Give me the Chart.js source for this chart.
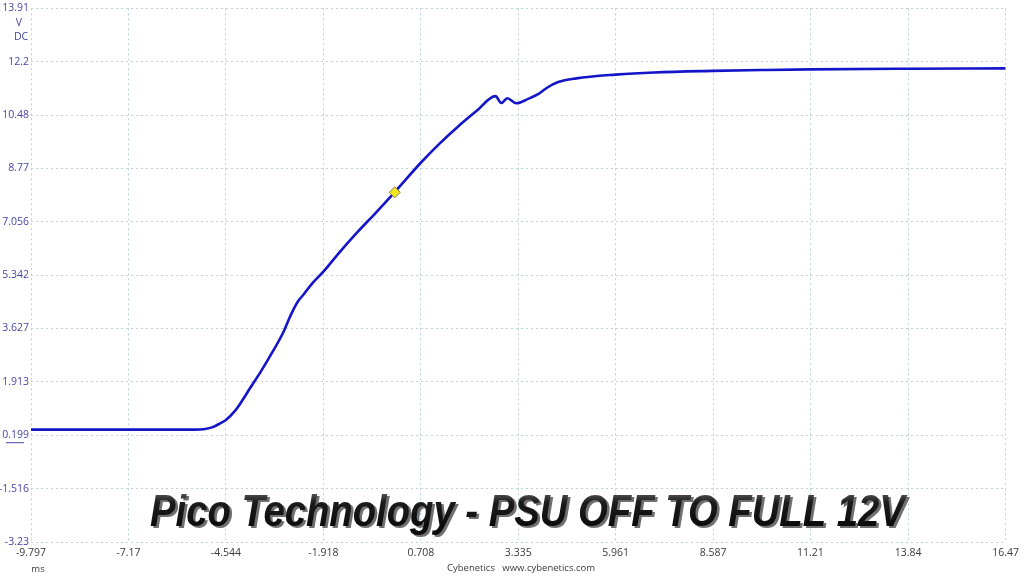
<!DOCTYPE html>
<html>
<head>
<meta charset="utf-8">
<script src="https://cdn.jsdelivr.net/npm/chart.js@4"></script>
<style>
html,body{margin:0;padding:0;background:#fff;}
#wrap{width:1024px;height:576px;position:relative;}
</style>
</head>
<body>
<div id="wrap"><canvas id="c" width="1024" height="576"></canvas></div>
<script>
const xTickLabels = ['-9.797','-7.17','-4.544','-1.918','0.708','3.335','5.961','8.587','11.21','13.84','16.47'];
const yTickLabels = ['-3.23','-1.516','0.199','1.913','3.627','5.342','7.056','8.77','10.48','12.2','13.91'];
const timeMs = [-9.797,-8.5,-7,-6,-5.4,-5.1,-4.9,-4.7,-4.544,-4.3,-4.1,-3.9,-3.6,-3.3,-3.0,-2.8,-2.6,-2.45,-2.2,-1.918,-1.5,-1.0,-0.5,0.0,0.708,1.2,1.7,2.2,2.72,2.88,3.04,3.28,3.6,3.87,4.1,4.41,4.9,5.961,7.0,8.587,10.0,11.21,13.84,16.47];
const voltageV = [0.38,0.38,0.38,0.38,0.38,0.40,0.46,0.58,0.69,0.98,1.32,1.70,2.25,2.85,3.5,4.05,4.5,4.72,5.1,5.45,6.05,6.72,7.35,8.0,8.95,9.55,10.1,10.6,11.09,10.87,11.02,10.86,11.0,11.15,11.35,11.54,11.66,11.78,11.85,11.9,11.93,11.95,11.97,11.98];
const markerTime = [0.006];
const markerVolt = [8.0];

const xMin = parseFloat(xTickLabels[0]), xMax = parseFloat(xTickLabels[xTickLabels.length-1]);
const yMin = parseFloat(yTickLabels[0]), yMax = parseFloat(yTickLabels[yTickLabels.length-1]);

const gridCol = '#b9d2da';
const yLabCol = '#4646a6';
const xLabCol = '#3a3a3a';
const tickFont = {family:'"Open Sans", "Noto Sans", sans-serif', size:10.5};

const extras = {
  id:'extras',
  afterDraw(chart){
    const ctx = chart.ctx, ys = chart.scales.y;
    ctx.save();
    ctx.font = '10.5px "Open Sans", "Noto Sans", sans-serif';
    ctx.fillStyle = yLabCol;
    ctx.textAlign = 'center'; ctx.textBaseline = 'middle';
    ctx.fillText('V', 19, 23);
    ctx.fillText('DC', 21, 37);
    const yz = ys.getPixelForValue(parseFloat(yTickLabels[2]));
    ctx.strokeStyle = yLabCol; ctx.lineWidth = 1;
    ctx.beginPath(); ctx.moveTo(6, yz+7.5); ctx.lineTo(24, yz+7.5); ctx.stroke();
    ctx.fillStyle = xLabCol;
    ctx.font = '9.5px "Open Sans", "Noto Sans", sans-serif';
    ctx.fillText('ms', 38, 569);
    ctx.fillText('Cybenetics   www.cybenetics.com', 521, 568);
    const title = 'Pico Technology - PSU OFF TO FULL 12V';
    const fam = '"Liberation Sans", Arial, Helvetica, sans-serif';
    ctx.font = 'italic bold 40px ' + fam;
    const w = ctx.measureText(title).width;
    const fs = 40 * 755 / w;
    ctx.font = 'italic bold ' + fs.toFixed(2) + 'px ' + fam;
    ctx.textAlign = 'left'; ctx.textBaseline = 'alphabetic';
    ctx.translate(150, 526);
    ctx.scale(1, 1.18);
    ctx.fillStyle = '#707070';
    ctx.fillText(title, 2.5, 1.5);
    const g = ctx.createLinearGradient(0, -fs*0.75, 0, 0);
    g.addColorStop(0, '#5a5a5a');
    g.addColorStop(0.3, '#1c1c1c');
    g.addColorStop(1, '#0c0c0c');
    ctx.fillStyle = g;
    ctx.fillText(title, 0, 0);
    ctx.restore();
  }
};

new Chart(document.getElementById('c'), {
  type:'scatter',
  data:{
    datasets:[
      {
        label:'marker',
        data: markerTime.map((t,i)=>({x:t,y:markerVolt[i]})),
        pointStyle:'rectRot', pointRadius:5.5, backgroundColor:'#f3e61a', borderColor:'#8a8040', borderWidth:1,
        showLine:false, order:0
      },
      {
        label:'12V',
        data: timeMs.map((t,i)=>({x:t,y:voltageV[i]})),
        showLine:true, borderColor:'#1414c8', borderWidth:2.6, pointRadius:0,
        cubicInterpolationMode:'monotone', order:1
      }
    ]
  },
  options:{
    responsive:false, animation:false, devicePixelRatio:1,
    layout:{padding:{left:0,right:15,top:8,bottom:0}},
    plugins:{legend:{display:false}, tooltip:{enabled:false}, title:{display:false}},
    scales:{
      x:{
        type:'linear', min:xMin, max:xMax,
        afterBuildTicks(s){ s.ticks = xTickLabels.map(v=>({value:parseFloat(v)})); },
        afterFit(s){ s.height = 34; },
        ticks:{autoSkip:false, maxRotation:0, padding:5, color:xLabCol, font:tickFont,
          callback(v,i){ return xTickLabels[i]; }},
        grid:{color:gridCol, drawTicks:false, lineWidth:1},
        border:{display:false, dash:[2,3]}
      },
      y:{
        type:'linear', min:yMin, max:yMax,
        afterBuildTicks(s){ s.ticks = yTickLabels.map(v=>({value:parseFloat(v)})); },
        afterFit(s){ s.width = 31; },
        ticks:{autoSkip:false, padding:2, color:yLabCol, font:tickFont,
          callback(v,i){ return yTickLabels[i]; }},
        grid:{color:gridCol, drawTicks:false, lineWidth:1},
        border:{display:false, dash:[2,3]}
      }
    }
  },
  plugins:[extras]
});
</script>
</body>
</html>
